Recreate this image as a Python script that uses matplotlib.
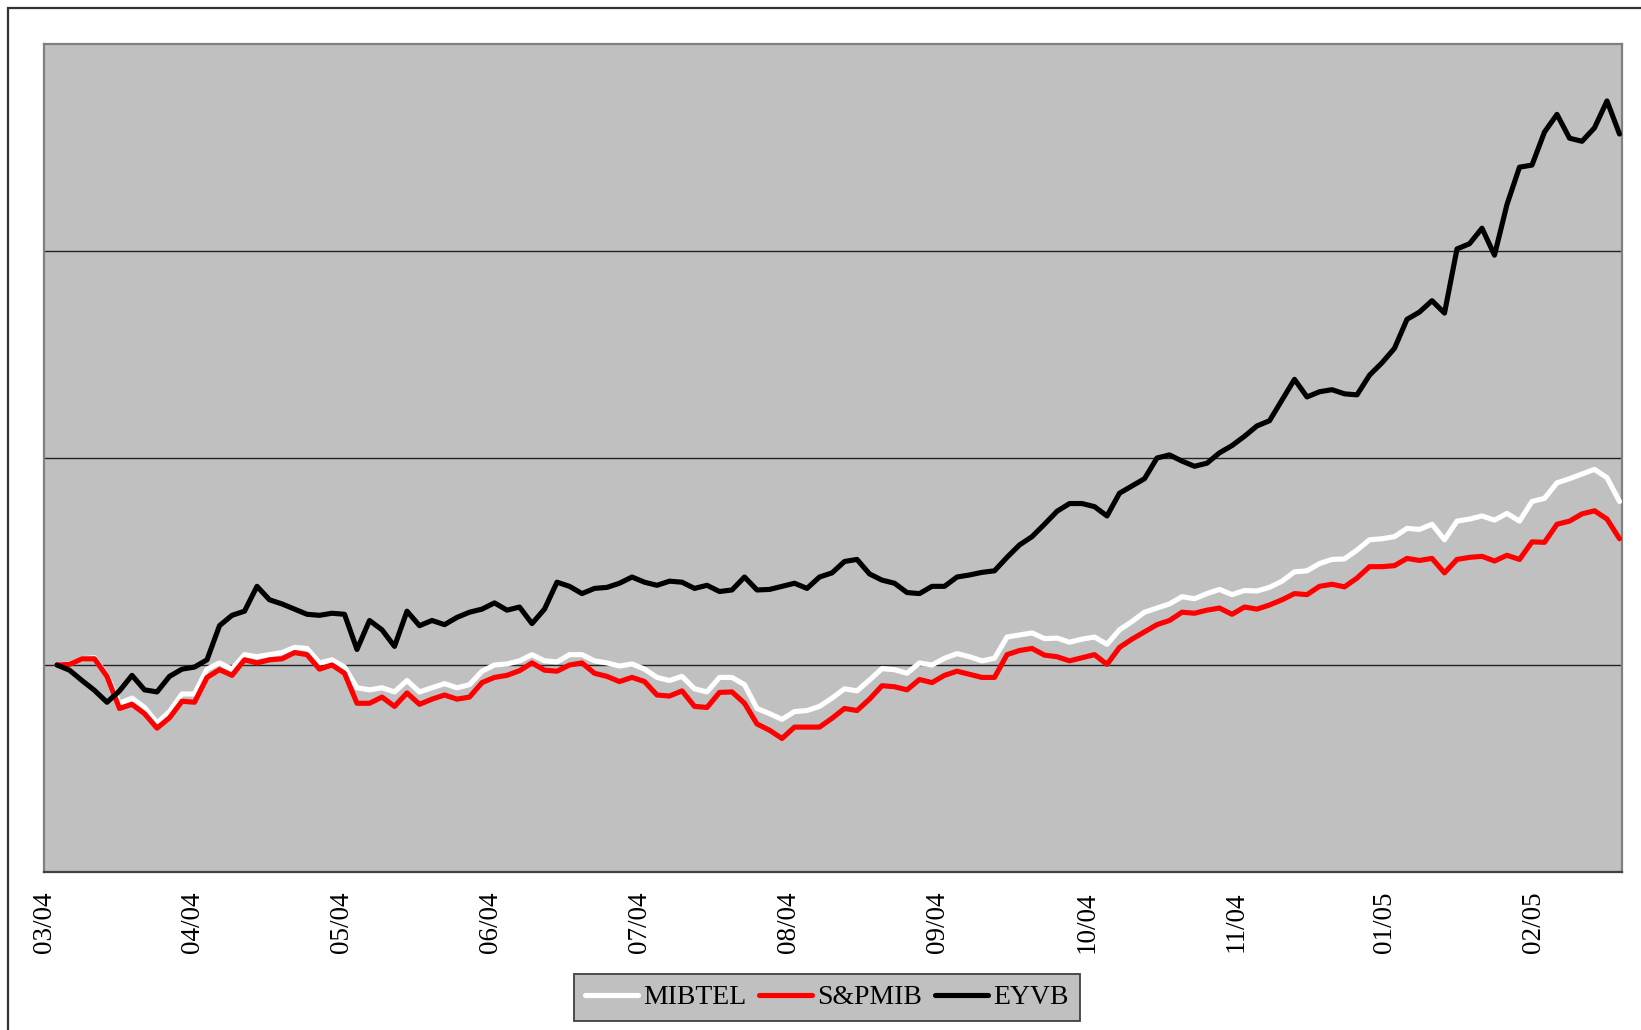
import numpy as np
import matplotlib
matplotlib.use("Agg")
import matplotlib.pyplot as plt
from matplotlib.patches import Rectangle

# ---- data (index levels, base = 100 at start; every 2nd trading day) ----
trading_day = np.arange(0, 252, 2)

eyvb = [
    100.0, 99.5, 98.5, 97.55, 96.4, 97.5, 99.0, 97.6, 97.4, 98.9,
    99.6, 99.8, 100.5, 103.8, 104.8, 105.2, 107.6, 106.3, 105.9, 105.4,
    104.9, 104.8, 105.0, 104.9, 101.5, 104.3, 103.4, 101.8, 105.2, 103.8,
    104.3, 103.9, 104.6, 105.1, 105.4, 106.0, 105.3, 105.6, 104.0, 105.4,
    108.0, 107.6, 106.9, 107.4, 107.5, 107.9, 108.5, 108.0, 107.7, 108.1,
    108.0, 107.4, 107.7, 107.1, 107.25, 108.5, 107.25, 107.3, 107.6, 107.9,
    107.4, 108.5, 108.9, 110.0, 110.2, 108.8, 108.2, 107.9, 107.0, 106.9,
    107.6, 107.6, 108.5, 108.7, 108.95, 109.1, 110.4, 111.6, 112.4, 113.6,
    114.85, 115.6, 115.6, 115.3, 114.4, 116.6, 117.3, 118.0, 120.0, 120.3,
    119.7, 119.2, 119.5, 120.5, 121.2, 122.1, 123.1, 123.6, 125.6, 127.6,
    125.9, 126.4, 126.6, 126.2, 126.1, 128.0, 129.2, 130.6, 133.4, 134.1,
    135.2, 134.0, 140.2, 140.7, 142.2, 139.6, 144.5, 148.1, 148.3, 151.5,
    153.2, 150.9, 150.6, 151.9, 154.5, 151.3,
]

mibtel = [
    100.0, 100.1, 100.6, 100.7, 99.0, 96.3, 96.8, 95.9, 94.4, 95.5,
    97.2, 97.2, 99.6, 100.2, 99.6, 101.0, 100.8, 101.0, 101.2, 101.7,
    101.6, 100.2, 100.5, 99.8, 97.8, 97.6, 97.8, 97.4, 98.5, 97.4,
    97.8, 98.2, 97.8, 98.1, 99.4, 100.0, 100.1, 100.4, 101.0, 100.4,
    100.3, 101.0, 101.0, 100.4, 100.2, 99.9, 100.1, 99.6, 98.8, 98.5,
    98.9, 97.7, 97.4, 98.8, 98.8, 98.1, 95.8, 95.3, 94.75, 95.5,
    95.6, 96.0, 96.8, 97.7, 97.5, 98.55, 99.65, 99.55, 99.2, 100.2,
    100.0, 100.65, 101.1, 100.8, 100.4, 100.65, 102.7, 102.9, 103.1, 102.55,
    102.6, 102.2, 102.5, 102.7, 102.0, 103.4, 104.2, 105.1, 105.5, 105.9,
    106.6, 106.4, 106.9, 107.3, 106.8, 107.2, 107.15, 107.5, 108.1, 109.0,
    109.1, 109.8, 110.2, 110.25, 111.1, 112.1, 112.2, 112.4, 113.2, 113.1,
    113.6, 112.1, 113.9, 114.1, 114.4, 114.0, 114.65, 113.9, 115.8, 116.1,
    117.6, 118.0, 118.45, 118.9, 118.1, 115.8,
]

spmib = [
    100.0, 100.06, 100.6, 100.6, 98.9, 95.8, 96.2, 95.3, 93.9, 94.9,
    96.5, 96.4, 98.8, 99.55, 99.0, 100.5, 100.2, 100.5, 100.6, 101.2,
    101.0, 99.6, 100.0, 99.2, 96.3, 96.3, 96.9, 96.0, 97.3, 96.2,
    96.7, 97.1, 96.7, 96.9, 98.3, 98.8, 99.0, 99.45, 100.2, 99.5,
    99.4, 100.0, 100.2, 99.2, 98.9, 98.4, 98.8, 98.4, 97.1, 97.0,
    97.5, 96.0, 95.9, 97.35, 97.4, 96.3, 94.3, 93.7, 92.9, 94.0,
    94.0, 94.0, 94.85, 95.8, 95.6, 96.7, 98.0, 97.9, 97.6, 98.6,
    98.3, 99.0, 99.4, 99.1, 98.8, 98.8, 101.0, 101.4, 101.6, 100.95,
    100.8, 100.4, 100.7, 101.0, 100.06, 101.7, 102.5, 103.2, 103.9, 104.3,
    105.1, 105.0, 105.3, 105.5, 104.9, 105.6, 105.4, 105.8, 106.3, 106.9,
    106.8, 107.6, 107.8, 107.55, 108.4, 109.5, 109.5, 109.6, 110.3, 110.1,
    110.3, 108.9, 110.2, 110.4, 110.5, 110.05, 110.6, 110.2, 111.9, 111.85,
    113.6, 113.9, 114.6, 114.9, 114.1, 112.2,
]

tick_labels = ["03/04", "04/04", "05/04", "06/04", "07/04", "08/04",
               "09/04", "10/04", "11/04", "01/05", "02/05"]
series_names = ["MIBTEL", "S&PMIB", "EYVB"]
series_colors = ["#ffffff", "#ff0000", "#000000"]

# ---- figure ----
W, H = 1641, 1030
fig = plt.figure(figsize=(W / 100, H / 100), dpi=100)
fig.patch.set_facecolor("white")

# outer chart border (cropped at right/bottom)
fig.patches.append(Rectangle((8 / W, -0.1), 2.0, 1 - 8 / H + 0.1,
                             transform=fig.transFigure, fill=False,
                             edgecolor="#333333", linewidth=1.6))

ax = fig.add_axes([44 / W, 1 - 872 / H, (1622 - 44) / W, (872 - 44) / H])
ax.set_facecolor("#c0c0c0")

# day-to-pixel: first point at x=57 px, 6.25 px per trading day
x_left = -13 / 6.25
x_right = (1622 - 57) / 6.25
ax.set_xlim(x_left, x_right)
ax.set_ylim(80, 160)

for yv in (100, 120, 140):
    ax.axhline(yv, color="#222222", linewidth=1.0, zorder=1)

for vals, name, col in zip([mibtel, spmib, eyvb], series_names, series_colors):
    ax.plot(trading_day, vals, color=col, linewidth=3.7, label=name,
            solid_joinstyle="round", solid_capstyle="round", zorder=3)

tick_step = 149 / 6.25
ax.set_xticks([x_left + i * tick_step for i in range(len(tick_labels))])
ax.set_xticklabels(tick_labels, rotation=90, fontfamily="Liberation Serif",
                   fontsize=19.5, va="top", ha="center")
ax.tick_params(axis="x", length=0, pad=14)
ax.set_yticks([])

for side in ("left", "top", "right"):
    ax.spines[side].set_color("#808080")
    ax.spines[side].set_linewidth(1.6)
ax.spines["bottom"].set_color("#404040")
ax.spines["bottom"].set_linewidth(1.6)

leg = fig.legend(loc="center", bbox_to_anchor=(827 / W, 1 - 997.5 / H),
                 ncol=3, frameon=True, fancybox=False,
                 prop={"family": "Liberation Serif", "size": 20},
                 handlelength=1.9, handletextpad=0.2, columnspacing=0.45,
                 borderpad=0.4, borderaxespad=0)
leg.get_frame().set_facecolor("#c0c0c0")
leg.get_frame().set_edgecolor("#404040")
leg.get_frame().set_linewidth(1.3)
leg.get_frame().set_alpha(1)
for line in leg.get_lines():
    line.set_linewidth(3.7)

fig.savefig("out.png", dpi=100)
